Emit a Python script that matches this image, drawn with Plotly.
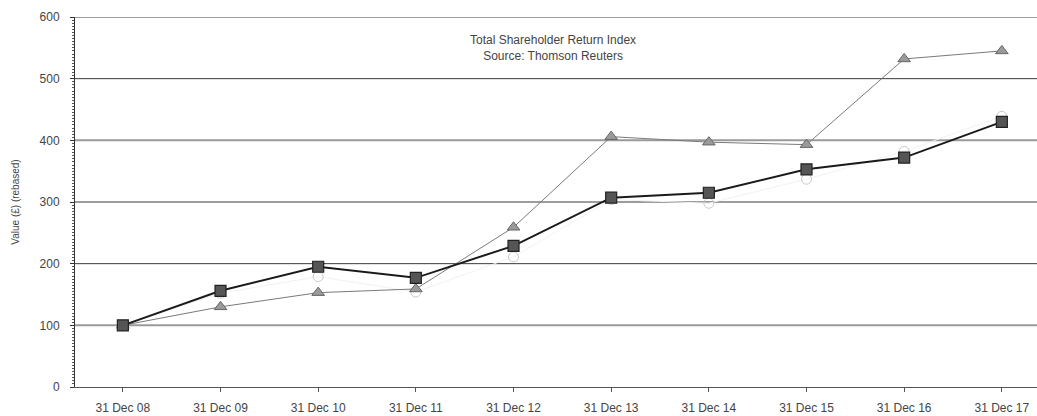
import plotly.graph_objects as go

categories = ["31 Dec 08", "31 Dec 09", "31 Dec 10", "31 Dec 11", "31 Dec 12",
              "31 Dec 13", "31 Dec 14", "31 Dec 15", "31 Dec 16", "31 Dec 17"]
company = [100, 156, 195, 177, 229, 307, 315, 353, 372, 430]
index_a = [100, 130, 153, 159, 259, 406, 397, 393, 532, 545]
index_b = [100, 152, 179, 154, 211, 304, 298, 337, 382, 439]
y_ticks = [0, 100, 200, 300, 400, 500, 600]
dark_grid = [200, 300, 500, 600]
light_grid = [100, 400]

fig = go.Figure()

fig.add_trace(go.Scatter(
    x=categories, y=index_b, mode="lines+markers",
    line=dict(color="#f2f2f2", width=1),
    marker=dict(symbol="circle-open", size=10, color="#c8c8c8", line=dict(width=1)),
    showlegend=False))
fig.add_trace(go.Scatter(
    x=categories, y=index_a, mode="lines+markers",
    line=dict(color="#7a7a7a", width=1),
    marker=dict(symbol="triangle-up", size=11, color="#9a9a9a",
                line=dict(color="#666", width=1)),
    showlegend=False))
fig.add_trace(go.Scatter(
    x=categories, y=company, mode="lines+markers",
    line=dict(color="#1a1a1a", width=2),
    marker=dict(symbol="square", size=11, color="#555",
                line=dict(color="#222", width=1.2)),
    showlegend=False))

shapes = []
for v in dark_grid:
    shapes.append(dict(type="line", xref="paper", x0=0, x1=1, yref="y", y0=v, y1=v,
                       line=dict(color="#3a3a3a", width=1), layer="below"))
for v in light_grid:
    shapes.append(dict(type="line", xref="paper", x0=0, x1=1, yref="y", y0=v, y1=v,
                       line=dict(color="#9a9a9a", width=2), layer="below"))

fig.update_layout(
    width=1037, height=416,
    margin=dict(l=75, r=0, t=17, b=29),
    paper_bgcolor="white", plot_bgcolor="white",
    font=dict(family="Liberation Sans, Arial, sans-serif", size=11, color="#444"),
    shapes=shapes,
    annotations=[dict(text="Total Shareholder Return Index<br>Source: Thomson Reuters",
                      xref="paper", yref="paper", x=0.497, y=0.915,
                      showarrow=False, font=dict(size=12, color="#444"),
                      xanchor="center", yanchor="middle")],
    xaxis=dict(type="category", range=[-0.49, 9.36],
               showgrid=False, showline=True, linecolor="#555", linewidth=1,
               ticks="outside", ticklen=4, tickcolor="#555",
               ticklabelstandoff=6,
               tickfont=dict(size=12, color="#444")),
    yaxis=dict(range=[0, 600], tickvals=y_ticks, showgrid=False, zeroline=False,
               showline=True, linecolor="#333", linewidth=1,
               ticks="outside", ticklen=4, tickcolor="#333",
               ticklabelstandoff=8,
               minor=dict(dtick=5, ticks="outside", ticklen=2, tickcolor="#555"),
               tickfont=dict(size=12, color="#444"),
               title=dict(text="Value (£) (rebased)", font=dict(size=10, color="#444"),
                          standoff=18)),
)

fig.write_html("out.html")
